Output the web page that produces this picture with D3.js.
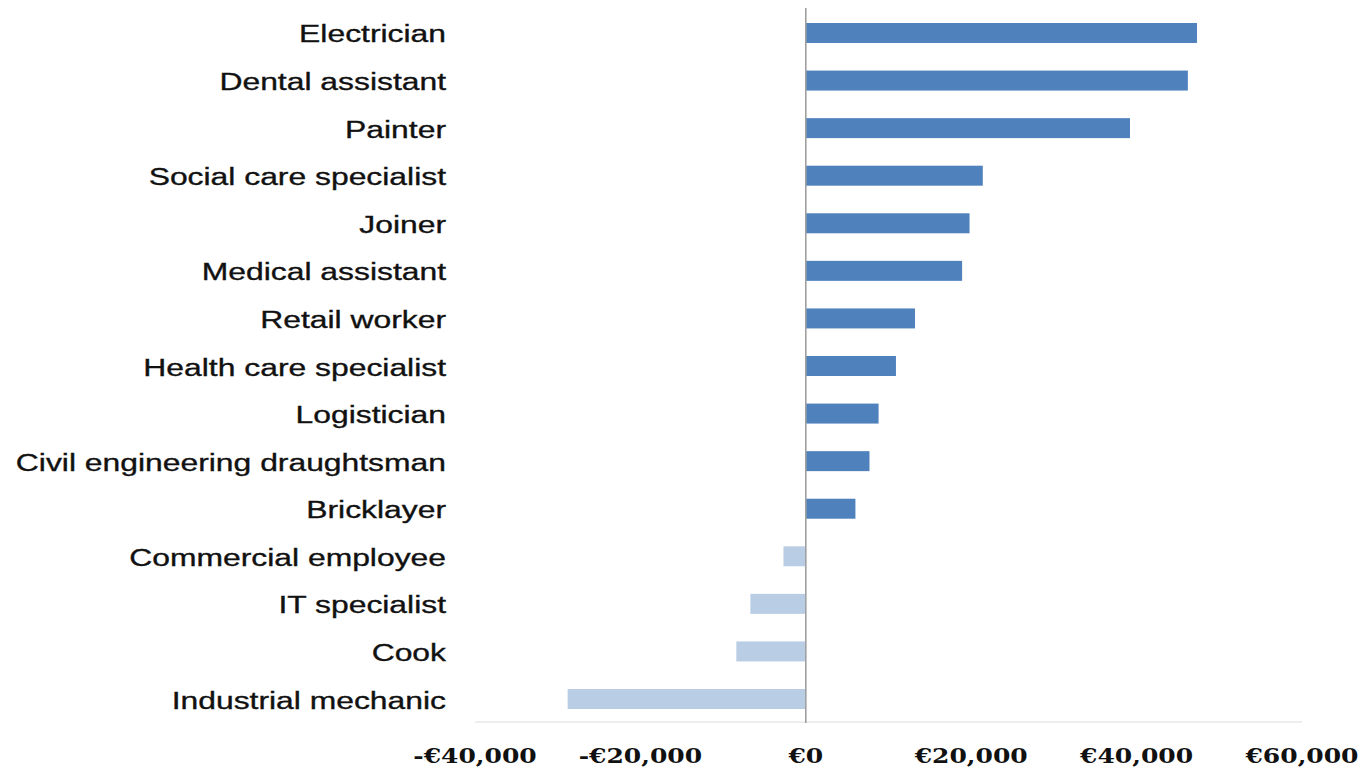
<!DOCTYPE html>
<html>
<head>
<meta charset="utf-8">
<script src="https://cdn.jsdelivr.net/npm/d3@7"></script>
<style>
  html, body { margin: 0; padding: 0; background: #fff; }
  svg { display: block; }
</style>
</head>
<body>
<svg id="chart" width="1360" height="773"></svg>
<script>
const categories = [
  "Electrician", "Dental assistant", "Painter", "Social care specialist", "Joiner",
  "Medical assistant", "Retail worker", "Health care specialist", "Logistician",
  "Civil engineering draughtsman", "Bricklayer", "Commercial employee",
  "IT specialist", "Cook", "Industrial mechanic"
];
const values = [
  47300, 46200, 39200, 21400, 19800,
  18900, 13200, 10900, 8800,
  7700, 6000, -2700,
  -6700, -8400, -28800
];
const tickValues = [-40000, -20000, 0, 20000, 40000, 60000];

const svg = d3.select("#chart");
const x = d3.scaleLinear().domain([-40000, 60000]).range([475, 1302]);
const y = d3.scaleBand().domain(categories).range([9.2, 722.8]).paddingInner(0.58).paddingOuter(0.29);

const data = categories.map((c, i) => ({ c, v: values[i] }));

// bottom axis line
svg.append("line")
  .attr("x1", x(-40000)).attr("x2", x(60000))
  .attr("y1", 722).attr("y2", 722)
  .attr("stroke", "#eeeeee").attr("stroke-width", 2);

// bars
svg.append("g").selectAll("rect").data(data).join("rect")
  .attr("x", d => x(Math.min(0, d.v)))
  .attr("width", d => Math.abs(x(d.v) - x(0)))
  .attr("y", d => y(d.c))
  .attr("height", y.bandwidth())
  .attr("fill", d => d.v >= 0 ? "#4f81bd" : "#b9cde5");

// zero line
svg.append("line")
  .attr("x1", x(0)).attr("x2", x(0))
  .attr("y1", 8).attr("y2", 723)
  .attr("stroke", "#a0a0a0").attr("stroke-width", 1.6);

// category labels
svg.append("g").selectAll("text").data(categories).join("text")
  .attr("transform", d => `translate(446,${y(d) + y.bandwidth() / 2 + 9.5}) scale(1.3,1)`)
  .attr("text-anchor", "end")
  .attr("font-family", "'Liberation Sans', Arial, sans-serif")
  .attr("font-size", 24.5)
  .attr("fill", "#111")
  .attr("stroke", "#111")
  .attr("stroke-width", 0.35)
  .text(d => d);

// tick labels
const fmt = v => (v < 0 ? "-" : "") + "€" + d3.format(",")(Math.abs(v));
svg.append("g").selectAll("text").data(tickValues).join("text")
  .attr("transform", d => `translate(${x(d)},763) scale(1.25,1)`)
  .attr("text-anchor", "middle")
  .attr("font-family", "'DejaVu Serif', Georgia, serif")
  .attr("font-weight", "bold")
  .attr("font-size", 20)
  .attr("fill", "#111")
  .text(fmt);
</script>
</body>
</html>
